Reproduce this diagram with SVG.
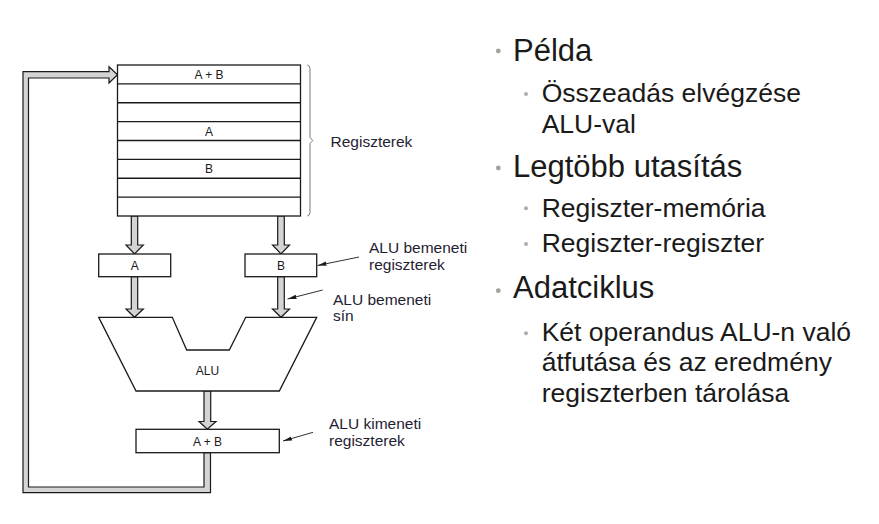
<svg xmlns="http://www.w3.org/2000/svg" width="879" height="524" viewBox="0 0 879 524">
<defs>
<style>
.box{fill:#fff;stroke:#1a1a1a;stroke-width:1.3}
.fat{fill:#d4d4d4;stroke:#1a1a1a;stroke-width:1.2;stroke-linejoin:miter}
.t{font-family:"Liberation Sans",Arial,sans-serif;fill:#1a1a1a}
.small{font-size:12px}
.lbl{font-size:15.5px;fill:#1f2233}
.h1{font-size:31px}
.h2{font-size:26.5px}
.ptr{stroke:#1a1a1a;stroke-width:0.9;fill:none}
.bul1{fill:#9ea69a}
.bul2{fill:#aab0a6}
</style>
<marker id="ah" markerWidth="10" markerHeight="6" refX="9" refY="3" orient="auto" markerUnits="userSpaceOnUse">
<path d="M0,0.8 L9,3 L0,5.2 Z" fill="#1a1a1a"/>
</marker>
</defs>
<rect width="879" height="524" fill="#fff"/>

<g id="connectors">
<polygon class="fat" points="204,452.7 204,487 28.5,487 28.5,78 109,78 109,83 117.5,74.8 109,66.7 109,71.7 23,71.7 23,492.7 210.5,492.7 210.5,452.7"/>
<polygon class="fat" points="131.3,216 137.7,216 137.7,245 143.3,245 134.5,254 126,245 131.3,245"/>
<polygon class="fat" points="277.7,216 284.3,216 284.3,245 289.5,245 281,254 272.5,245 277.7,245"/>
<polygon class="fat" points="131.3,276.7 137.7,276.7 137.7,309 143.3,309 134.5,317.3 126,309 131.3,309"/>
<polygon class="fat" points="277.7,276.7 284.3,276.7 284.3,309 289.5,309 281,317.3 272.5,309 277.7,309"/>
<polygon class="fat" points="204,391 210.7,391 210.7,421.5 216,421.5 207.3,429.3 199,421.5 204,421.5"/>
<line class="ptr" x1="359" y1="257" x2="317.5" y2="265.5" marker-end="url(#ah)"/>
<line class="ptr" x1="322.7" y1="290" x2="287.5" y2="299" marker-end="url(#ah)"/>
<line class="ptr" x1="313" y1="432.3" x2="283" y2="441" marker-end="url(#ah)"/>
</g>

<g id="registers">
<rect class="box" x="117.5" y="65" width="183" height="151"/>
<g stroke="#1a1a1a" stroke-width="1.3">
<line x1="117.5" y1="83.9" x2="300.5" y2="83.9"/>
<line x1="117.5" y1="102.75" x2="300.5" y2="102.75"/>
<line x1="117.5" y1="121.6" x2="300.5" y2="121.6"/>
<line x1="117.5" y1="140.5" x2="300.5" y2="140.5"/>
<line x1="117.5" y1="159.4" x2="300.5" y2="159.4"/>
<line x1="117.5" y1="178.25" x2="300.5" y2="178.25"/>
<line x1="117.5" y1="197.1" x2="300.5" y2="197.1"/>
</g>
<text class="t small" x="209" y="79" text-anchor="middle">A + B</text>
<text class="t small" x="209" y="135.5" text-anchor="middle">A</text>
<text class="t small" x="209" y="173.3" text-anchor="middle">B</text>
</g>

<g id="brace">
<path d="M307.3,65 Q310,65.5 310,68.5 L310,137.5 L312.8,140.5 L310,143.5 L310,212.5 Q310,215.5 307.3,216" fill="none" stroke="#777" stroke-width="1"/>
<text class="t lbl" x="330.5" y="146.7">Regiszterek</text>
</g>

<g id="regA">
<rect class="box" x="98.7" y="254" width="72" height="22.7"/>
<text class="t small" x="134.7" y="270" text-anchor="middle">A</text>
</g>

<g id="regB">
<rect class="box" x="245" y="254" width="71.7" height="22.7"/>
<text class="t small" x="281" y="270" text-anchor="middle">B</text>
</g>

<g id="alu">
<polygon class="box" points="98.7,317.3 172.3,317.3 186.7,350 229.3,350 245.7,317.3 316.7,317.3 279.3,391 136,391"/>
<text class="t small" x="207.5" y="374.5" text-anchor="middle">ALU</text>
</g>

<g id="out">
<rect class="box" x="136" y="429.3" width="143.3" height="23.4"/>
<text class="t small" x="207.5" y="445.5" text-anchor="middle">A + B</text>
</g>

<g id="labels">
<text class="t lbl" x="369" y="253.3">ALU bemeneti</text>
<text class="t lbl" x="369" y="269.8">regiszterek</text>
<text class="t lbl" x="333" y="305">ALU bemeneti</text>
<text class="t lbl" x="333" y="321">sín</text>
<text class="t lbl" x="329" y="429.3">ALU kimeneti</text>
<text class="t lbl" x="329" y="446">regiszterek</text>
</g>

<g id="bullets">
<circle class="bul1" cx="498.3" cy="51" r="2.4"/>
<text class="t h1" x="513" y="60.7">Példa</text>
<circle class="bul2" cx="526" cy="94" r="2"/>
<text class="t h2" x="541.7" y="101.7">Összeadás elvégzése</text>
<text class="t h2" x="541.7" y="132.7">ALU-val</text>
<circle class="bul1" cx="498.3" cy="168" r="2.4"/>
<text class="t h1" x="513" y="176.7">Legtöbb utasítás</text>
<circle class="bul2" cx="526" cy="208.3" r="2"/>
<text class="t h2" x="541.7" y="216.7">Regiszter-memória</text>
<circle class="bul2" cx="526" cy="244" r="2"/>
<text class="t h2" x="541.7" y="251.7">Regiszter-regiszter</text>
<circle class="bul1" cx="498.3" cy="290.7" r="2.4"/>
<text class="t h1" x="513" y="298.3">Adatciklus</text>
<circle class="bul2" cx="526" cy="333.3" r="2"/>
<text class="t h2" x="541.7" y="341">Két operandus ALU-n való</text>
<text class="t h2" x="541.7" y="371.3">átfutása és az eredmény</text>
<text class="t h2" x="541.7" y="401.7">regiszterben tárolása</text>
</g>
</svg>
